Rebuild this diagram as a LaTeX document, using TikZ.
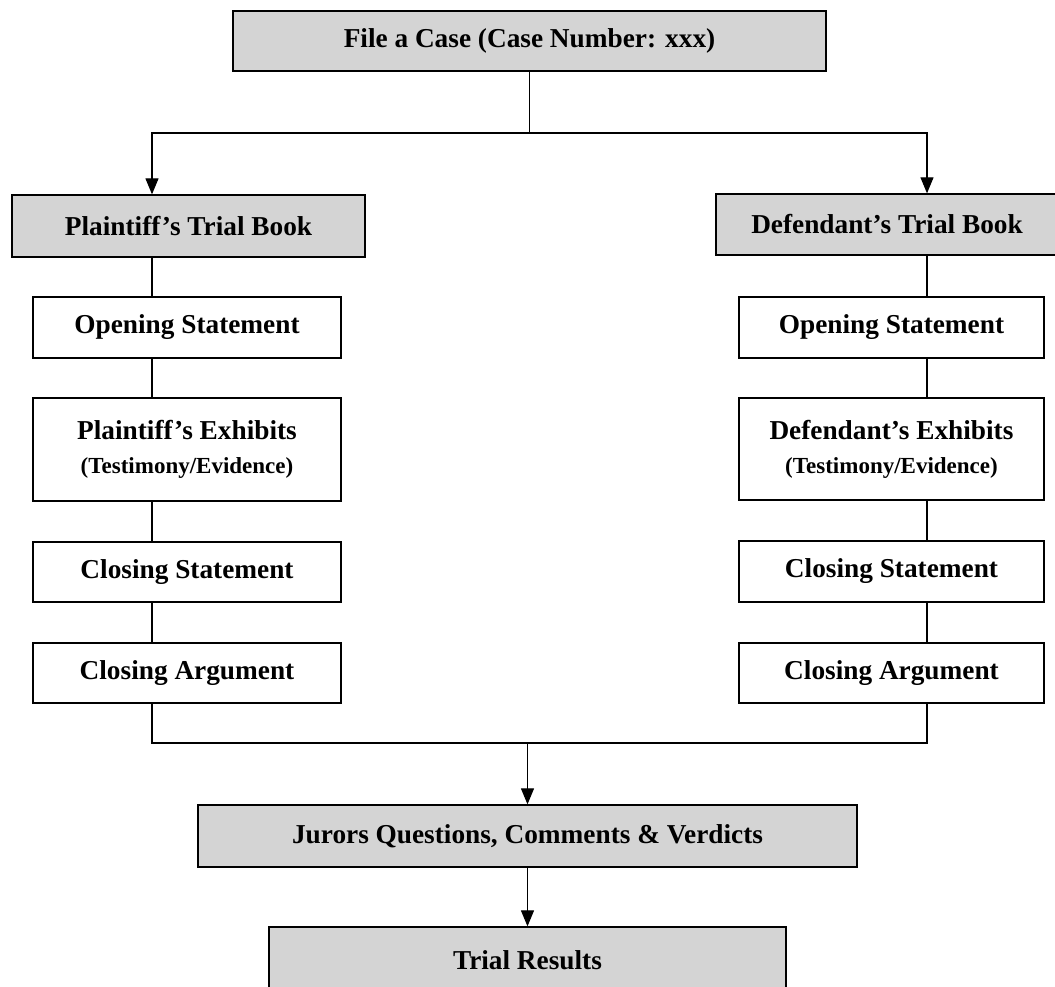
\documentclass[tikz,border=0pt]{standalone}
\usepackage{fontspec}
\setmainfont{Liberation Serif}
\usetikzlibrary{arrows.meta}
\begin{document}
\begin{tikzpicture}[x=1pt,y=-1pt,
  base/.style={draw=black,line width=1.3pt,inner sep=0pt,align=center,
    font=\fontsize{27.3}{32}\selectfont\bfseries},
  graybox/.style={base,fill=black!17},
  whitebox/.style={base,fill=white},
  conn/.style={draw=black,line width=1.1pt},
  arr/.style={conn,-{Triangle[length=16pt,width=13pt]}}]
\useasboundingbox (0,0) rectangle (1055,986);
% nodes
\node[graybox,minimum width=593pt,minimum height=60pt] (file) at (529.5,41) {File a Case (Case Number: xxx)};
\node[graybox,minimum width=353pt,minimum height=62pt] (ptb) at (188.5,226) {Plaintiff's Trial Book};
\node[graybox,minimum width=342pt,minimum height=61pt] (dtb) at (887,224.5) {Defendant's Trial Book};
\node[whitebox,minimum width=308pt,minimum height=61pt] (pos) at (187,327.5) {Opening Statement};
\node[whitebox,minimum width=308pt,minimum height=103pt] (pex) at (187,449.5) {Plaintiff's Exhibits\\[2pt]{\fontsize{23}{28}\selectfont(Testimony/Evidence)}};
\node[whitebox,minimum width=308pt,minimum height=60pt] (pcs) at (187,572) {Closing Statement};
\node[whitebox,minimum width=308pt,minimum height=60pt] (pca) at (187,673) {Closing Argument};
\node[whitebox,minimum width=305pt,minimum height=61pt] (dos) at (891.5,327.5) {Opening Statement};
\node[whitebox,minimum width=305pt,minimum height=102pt] (dex) at (891.5,449) {Defendant's Exhibits\\[2pt]{\fontsize{23}{28}\selectfont(Testimony/Evidence)}};
\node[whitebox,minimum width=305pt,minimum height=61pt] (dcs) at (891.5,571.5) {Closing Statement};
\node[whitebox,minimum width=305pt,minimum height=60pt] (dca) at (891.5,673) {Closing Argument};
\node[graybox,minimum width=659pt,minimum height=62pt] (jur) at (527.5,836) {Jurors Questions, Comments \& Verdicts};
\node[graybox,minimum width=517pt,minimum height=66pt] (res) at (527.5,960) {Trial Results};
% helper coordinates
\coordinate (lx) at (152,0);
\coordinate (rx) at (927,0);
\coordinate (split) at (529.5,133);
\coordinate (merge) at (527.5,743);
% connectors
\draw[conn] (file.south) -- (split);
\draw[arr] (split) -| (lx |- ptb.north);
\draw[arr] (split) -| (rx |- dtb.north);
\draw[conn] (lx |- ptb.south) -- (lx |- pos.north);
\draw[conn] (lx |- pos.south) -- (lx |- pex.north);
\draw[conn] (lx |- pex.south) -- (lx |- pcs.north);
\draw[conn] (lx |- pcs.south) -- (lx |- pca.north);
\draw[conn] (rx |- dtb.south) -- (rx |- dos.north);
\draw[conn] (rx |- dos.south) -- (rx |- dex.north);
\draw[conn] (rx |- dex.south) -- (rx |- dcs.north);
\draw[conn] (rx |- dcs.south) -- (rx |- dca.north);
\draw[conn] (lx |- pca.south) |- (merge) -| (rx |- dca.south);
\draw[arr] (merge) -- (jur.north);
\draw[arr] (jur.south) -- (res.north);
\end{tikzpicture}
\end{document}
